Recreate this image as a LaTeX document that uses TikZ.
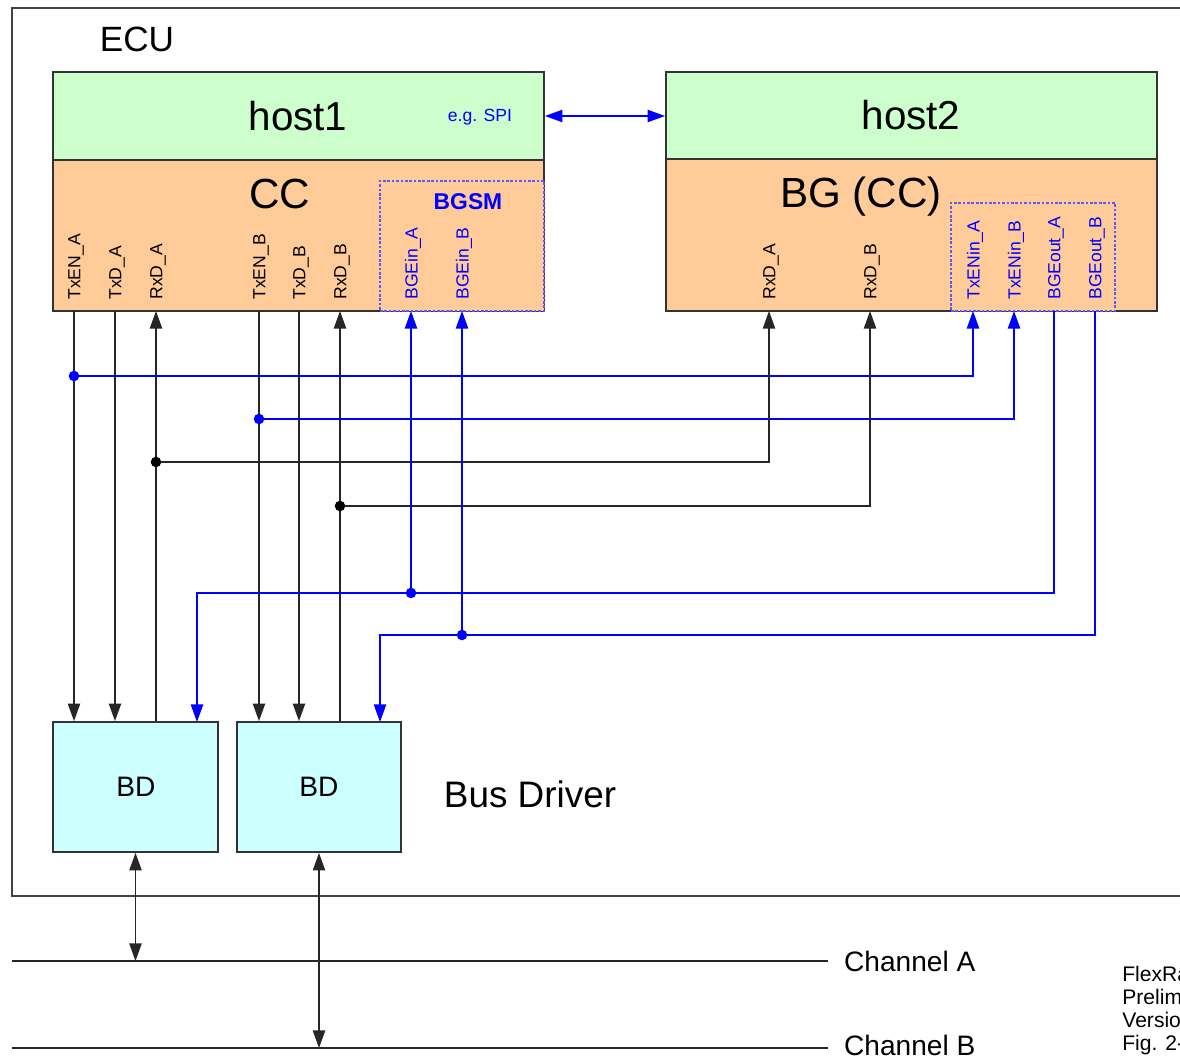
\documentclass[tikz,border=0pt]{standalone}
\usepackage{fontspec}
\setmainfont{Liberation Sans}
\usetikzlibrary{arrows.meta,fit}

\definecolor{hostgreen}{RGB}{204,255,204}
\definecolor{ccorange}{RGB}{255,204,153}
\definecolor{bdcyan}{RGB}{204,255,255}
\definecolor{sigblue}{RGB}{0,0,255}

\begin{document}
\begin{tikzpicture}[x=0.02cm,y=-0.02cm,
    blk/.style={draw=black!80,line width=1pt,inner sep=0pt},
    bgbox/.style={draw=sigblue!65,dash pattern=on 1.5pt off 1pt,line width=0.6pt,fill=ccorange,inner sep=0pt},
    pinlbl/.style={rotate=90,anchor=west,inner sep=0pt,font=\fontsize{10}{12}\selectfont},
    wire/.style={line width=0.8pt,black!85},
    bwire/.style={line width=0.8pt,sigblue},
    arr/.style={-{Triangle[length=10pt,width=7pt]}},
    dbl/.style={{Triangle[length=10pt,width=7pt]}-{Triangle[length=10pt,width=7pt]}},
    jdot/.style={circle,inner sep=0pt,minimum size=6pt}]
    \useasboundingbox (0,0) rectangle (1180,1060);
    \clip (0,0) rectangle (1180,1060);

    % ECU frame
    \draw[line width=1pt,black!75] (1200,8) -- (12,8) -- (12,896) -- (1200,896);
    \node[font=\fontsize{20}{24}\selectfont] (ecu) at (137,39) {ECU};

    % host1 with CC and BGSM
    \node[blk,fill=hostgreen,fit={(53,72) (544,160)}] (host1) {};
    \node[font=\fontsize{23}{27}\selectfont] (host1lbl) at (298,116) {host1};
    \node[blk,fill=ccorange,fit={(53,160) (544,311)}] (cc) {};
    \node[font=\fontsize{24}{28}\selectfont] (cclbl) at (280,194) {CC};
    \node[bgbox,fit={(380,181) (544,311)}] (bgsm) {};
    \node[text=sigblue,font=\bfseries\fontsize{13}{15}\selectfont] (bgsmlbl) at (468,202) {BGSM};
    \node[text=sigblue,font=\fontsize{10}{12}\selectfont] (spi) at (480,117) {e.g. SPI};

    % host2 with BG
    \node[blk,fill=hostgreen,fit={(666,72) (1157,159)}] (host2) {};
    \node[font=\fontsize{23}{27}\selectfont] (host2lbl) at (911,115) {host2};
    \node[blk,fill=ccorange,fit={(666,159) (1157,311)}] (bg) {};
    \node[font=\fontsize{24}{28}\selectfont] (bglbl) at (861,197) {BG (CC)};
    \node[bgbox,fit={(951,203) (1115,311)}] (bgio) {};

    % pins
    \foreach \nm/\x/\lbl/\c in {txenA/74/TxEN\_A/black,txdA/115/TxD\_A/black,rxdA/156/RxD\_A/black,
        txenB/259/TxEN\_B/black,txdB/299/TxD\_B/black,rxdB/340/RxD\_B/black,
        bgeinA/411/BGEin\_A/sigblue,bgeinB/462/BGEin\_B/sigblue,
        hrxdA/769/RxD\_A/black,hrxdB/870/RxD\_B/black,
        txeninA/973/TxENin\_A/sigblue,txeninB/1014/TxENin\_B/sigblue,
        bgeoutA/1054/BGEout\_A/sigblue,bgeoutB/1095/BGEout\_B/sigblue} {
      \coordinate (\nm) at (\x,311);
      \node[pinlbl,text=\c] (l\nm) at (\x+2,300) {\lbl};
    }

    % bus drivers
    \node[blk,fill=bdcyan,fit={(53,722) (218,852)}] (bd1) {};
    \node[blk,fill=bdcyan,fit={(237,722) (401,852)}] (bd2) {};
    \node[font=\fontsize{16}{19}\selectfont] (bd1lbl) at (136,787) {BD};
    \node[font=\fontsize{16}{19}\selectfont] (bd2lbl) at (319,787) {BD};
    \node[font=\fontsize{21}{25}\selectfont] (busdrv) at (530,794) {Bus Driver};
    \coordinate (bd1en) at (197,722);
    \coordinate (bd2en) at (380,722);

    % junctions
    \coordinate (j1) at (74,376);
    \coordinate (j2) at (259,419);
    \coordinate (j3) at (156,462);
    \coordinate (j4) at (340,506);
    \coordinate (j5) at (411,593);
    \coordinate (j6) at (462,635);

    % wires
    \draw[bwire,dbl] (host1.east) -- (host1.east -| host2.west);
    \draw[wire,arr] (txenA) -- (txenA |- bd1.north);
    \draw[wire,arr] (txdA) -- (txdA |- bd1.north);
    \draw[wire,arr] (rxdA |- bd1.north) -- (rxdA);
    \draw[wire,arr] (txenB) -- (txenB |- bd2.north);
    \draw[wire,arr] (txdB) -- (txdB |- bd2.north);
    \draw[wire,arr] (rxdB |- bd2.north) -- (rxdB);
    \draw[bwire,arr] (j1) -| (txeninA);
    \draw[bwire,arr] (j2) -| (txeninB);
    \draw[wire,arr] (j3) -| (hrxdA);
    \draw[wire,arr] (j4) -| (hrxdB);
    \draw[bwire,arr] (bgeoutA) |- (bd1en |- j5) -- (bd1en);
    \draw[bwire,arr] (j5) -- (bgeinA);
    \draw[bwire,arr] (bgeoutB) |- (bd2en |- j6) -- (bd2en);
    \draw[bwire,arr] (j6) -- (bgeinB);
    \foreach \j/\c in {j1/sigblue,j2/sigblue,j3/black,j4/black,j5/sigblue,j6/sigblue}
      \node[jdot,fill=\c] (d\j) at (\j) {};

    % channels
    \node[anchor=west,inner xsep=9pt,font=\fontsize{16}{19}\selectfont] (chAlbl) at (828,961) {Channel A};
    \node[anchor=west,inner xsep=9pt,font=\fontsize{16}{19}\selectfont] (chBlbl) at (828,1045) {Channel B};
    \coordinate (chA) at (12,961);
    \coordinate (chB) at (12,1048);
    \draw[wire] (chA) -- (chAlbl.west);
    \draw[wire] (chB) -- (chB -| chBlbl.west);
    \draw[wire,dbl] (bd1.south) -- (bd1.south |- chA);
    \draw[wire,dbl] (bd2.south) -- (bd2.south |- chB);

    \node[anchor=north west,align=left,inner sep=0pt,font=\fontsize{12}{13}\selectfont] (note) at (1122,966) {FlexRay\\Preliminary\\Version\\Fig. 2-};
\end{tikzpicture}
\end{document}
